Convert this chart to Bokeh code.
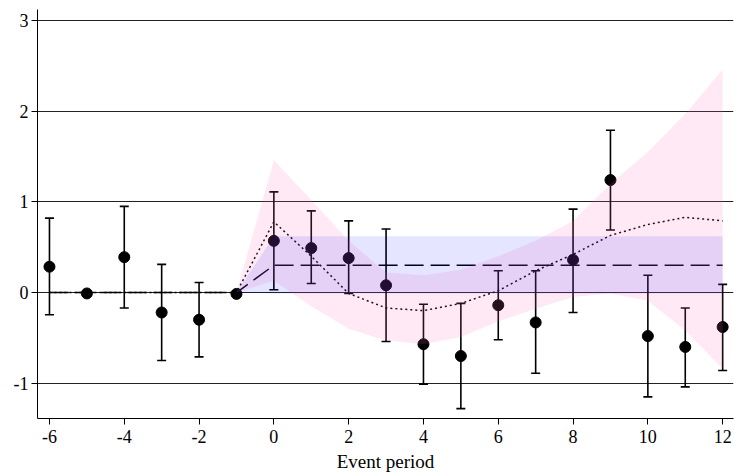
from bokeh.plotting import figure
from bokeh.models import FixedTicker, Range1d
from bokeh.embed import file_html
from bokeh.resources import INLINE

# ---- data ----
periods = [-6, -5, -4, -3, -2, -1, 0, 1, 2, 3, 4, 5, 6, 7, 8, 9, 10, 11, 12]
estimates = [0.285, -0.01, 0.39, -0.22, -0.30, -0.015, 0.57, 0.49, 0.38, 0.08,
             -0.57, -0.70, -0.14, -0.33, 0.36, 1.24, -0.48, -0.60, -0.38]
ci_lower = [-0.245, None, -0.17, -0.75, -0.71, None, 0.03, 0.10, -0.01, -0.54,
            -1.01, -1.28, -0.52, -0.89, -0.22, 0.69, -1.15, -1.04, -0.86]
ci_upper = [0.82, None, 0.95, 0.31, 0.11, None, 1.11, 0.90, 0.79, 0.70,
            -0.13, -0.12, 0.24, 0.24, 0.92, 1.79, 0.19, -0.17, 0.09]

# dotted (flexible) path and dashed (constant effect) path
dotted_y = [0, 0, 0, 0, 0, 0, 0.78, 0.40, -0.01, -0.17, -0.20, -0.12, 0.02,
            0.24, 0.42, 0.63, 0.75, 0.83, 0.79]
dashed_y = [0, 0, 0, 0, 0, 0, 0.30, 0.30, 0.30, 0.30, 0.30, 0.30, 0.30,
            0.30, 0.30, 0.30, 0.30, 0.30, 0.30]

# confidence bands (from period -1 on)
band_periods = [-1, 0, 1, 2, 3, 4, 5, 6, 7, 8, 9, 10, 11, 12]
pink_upper = [0, 1.46, 1.02, 0.57, 0.22, 0.19, 0.25, 0.40, 0.57, 0.79, 1.20, 1.55, 1.97, 2.46]
pink_lower = [0, 0.13, -0.15, -0.40, -0.53, -0.57, -0.49, -0.32, -0.18, -0.05, -0.01, -0.09, -0.42, -0.84]
blue_upper = [0, 0.62, 0.62, 0.62, 0.62, 0.62, 0.62, 0.62, 0.62, 0.62, 0.62, 0.62, 0.62, 0.62]
blue_lower = [0, -0.01, -0.01, -0.01, -0.01, -0.01, -0.01, -0.01, -0.01, -0.01, -0.01, -0.01, -0.01, -0.01]

x_ticks = [-6, -4, -2, 0, 2, 4, 6, 8, 10, 12]
x_tick_labels = ["-6", "-4", "-2", "0", "2", "4", "6", "8", "10", "12"]
y_ticks = [-1, 0, 1, 2, 3]
y_tick_labels = ["-1", "0", "1", "2", "3"]
x_label = "Event period"

FONT = "Liberation Serif"

p = figure(width=734, height=476, output_backend="svg", toolbar_location=None,
           x_range=Range1d(-6.32, 12.29), y_range=Range1d(-1.389, 3.121),
           min_border_left=37, min_border_right=1, min_border_top=9, min_border_bottom=58)
p.outline_line_color = None
p.background_fill_color = "white"
p.border_fill_color = "white"

# grid
p.xgrid.visible = False
p.ygrid.ticker = FixedTicker(ticks=y_ticks)
p.ygrid.grid_line_color = "#222222"
p.ygrid.grid_line_width = 1

# error bars
ex = [x for x, lo in zip(periods, ci_lower) if lo is not None]
elo = [lo for lo in ci_lower if lo is not None]
ehi = [hi for hi in ci_upper if hi is not None]
p.segment(x0=ex, y0=elo, x1=ex, y1=ehi, line_color="black", line_width=1.6)
p.scatter(x=ex, y=elo, marker="dash", size=9, line_color="black", line_width=1.6)
p.scatter(x=ex, y=ehi, marker="dash", size=9, line_color="black", line_width=1.6)

# points
p.scatter(x=periods, y=estimates, size=11, fill_color="black", line_color="black")

# lines
p.line(x=periods, y=dashed_y, line_color="black", line_width=1.5, line_dash="19 7")
p.line(x=periods, y=dotted_y, line_color="black", line_width=1.5, line_dash="2 3")

# bands (drawn over the points so they tint them like the reference)
p.varea(x=band_periods, y1=pink_lower, y2=pink_upper, fill_color="#ff69b4", fill_alpha=0.15)
p.varea(x=band_periods, y1=blue_lower, y2=blue_upper, fill_color="#0000ff", fill_alpha=0.1)

# axes
for ax in (p.xaxis[0], p.yaxis[0]):
    ax.axis_line_color = "black"
    ax.axis_line_width = 1
    ax.major_tick_line_color = "black"
    ax.major_tick_line_width = 1
    ax.major_tick_out = 6
    ax.major_tick_in = 0
    ax.minor_tick_line_color = None
    ax.major_label_text_font = FONT
    ax.major_label_text_font_size = "18px"
    ax.major_label_text_color = "black"

p.xaxis.ticker = FixedTicker(ticks=x_ticks)
p.xaxis.major_label_overrides = dict(zip(x_ticks, x_tick_labels))
p.yaxis.ticker = FixedTicker(ticks=y_ticks)
p.yaxis.major_label_overrides = dict(zip(y_ticks, y_tick_labels))
p.xaxis.major_label_standoff = 5
p.yaxis.major_label_standoff = 3
p.xaxis.axis_label = x_label
p.xaxis.axis_label_text_font = FONT
p.xaxis.axis_label_text_font_size = "19px"
p.xaxis.axis_label_text_font_style = "normal"
p.xaxis.axis_label_text_color = "black"
p.xaxis.axis_label_standoff = 5

open("out.html", "w").write(file_html(p, INLINE))
